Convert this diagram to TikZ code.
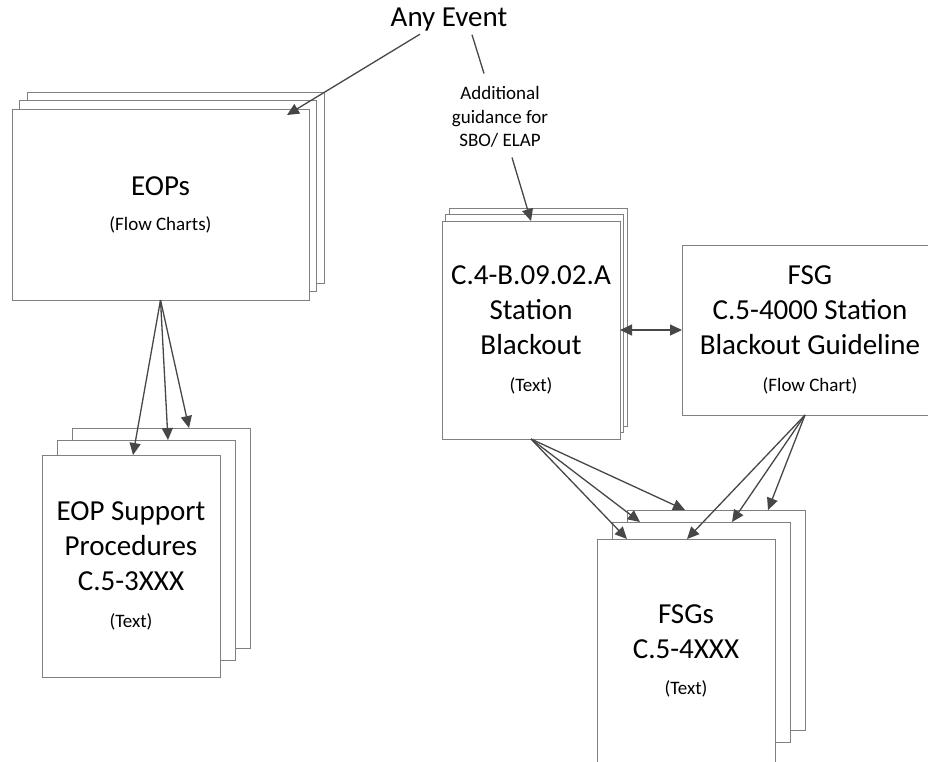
\documentclass[tikz,border=0pt]{standalone}
\usepackage{fontspec}
\setmainfont{Carlito}
\usetikzlibrary{arrows.meta,calc}
\newcommand\BigTxt{\fontsize{29}{35}\selectfont}
\newcommand\SmallTxt{\fontsize{19}{23.5}\selectfont}
\begin{document}
\begin{tikzpicture}[x=1pt,y=-1pt,
  page/.style={draw=black!50, line width=1pt, fill=white, inner sep=0pt, outer sep=0pt,
    anchor=north west, align=center, font=\BigTxt},
  tip/.tip={Triangle[length=12pt,width=11pt]},
  conn/.style={draw=black!72, line width=1.3pt, -tip},
  dconn/.style={draw=black!72, line width=1.3pt, tip-tip},
  plain/.style={draw=black!72, line width=1.3pt},
  label/.style={inner sep=0pt, outer sep=0pt, align=center}]
\useasboundingbox (0,0) rectangle (928,761);
\fill[white] (0,0) rectangle (928,761);

% EOPs stack
\node[page, minimum width=297pt, minimum height=191pt] (eops3) at (27,92) {};
\node[page, minimum width=297pt, minimum height=191pt] (eops2) at (19.5,100.5) {};
\node[page, minimum width=297pt, minimum height=191pt] (eops) at (12,109)
  {EOPs\\{\SmallTxt (Flow Charts)}};

% EOP support stack
\node[page, minimum width=178pt, minimum height=220pt] (sup3) at (72,428) {};
\node[page, minimum width=178pt, minimum height=220pt] (sup2) at (57,440) {};
\node[page, minimum width=178pt, minimum height=222pt] (sup) at (42,455)
  {EOP Support\\Procedures\\C.5-3XXX\\[2pt]{\SmallTxt (Text)}};

% Station blackout stack
\node[page, minimum width=178pt, minimum height=218pt] (sbo3) at (449,208) {};
\node[page, minimum width=178pt, minimum height=218pt] (sbo2) at (445.5,214.5) {};
\node[page, minimum width=178pt, minimum height=218pt] (sbo) at (442,221)
  {C.4-B.09.02.A\\Station\\Blackout\\[2pt]{\SmallTxt (Text)}};

% FSG guideline
\node[page, minimum width=256pt, minimum height=170pt] (fsg) at (682,245)
  {FSG\\C.5-4000 Station\\Blackout Guideline\\[2pt]{\SmallTxt (Flow Chart)}};

% FSGs stack
\node[page, minimum width=178pt, minimum height=220pt] (fsgs3) at (627,510) {};
\node[page, minimum width=178pt, minimum height=220pt] (fsgs2) at (612,522) {};
\node[page, minimum width=178pt, minimum height=224pt] (fsgs) at (597,539)
  {FSGs\\C.5-4XXX\\[1pt]{\SmallTxt (Text)}};

% labels
\node[label, font=\BigTxt, anchor=base] (any) at (449,26.7) {Any Event};
\node[label, font=\SmallTxt] (add) at (500,117) {Additional\\guidance for\\SBO/ ELAP};

% connectors
\draw[conn] ($(any.base)+(-29,7.5)$) -- ($(eops.north east)+(-22,6)$);
\draw[plain] ($(any.base)+(23,8)$) -- ($(add.north)+(-16,-13)$);
\draw[conn] ($(add.south)+(12,10)$) -- (sbo.north);

\draw[conn] (eops.south) -- ($(sup.north west)+(91,0)$);
\draw[conn] (eops.south) -- ($(sup2.north west)+(111,0)$);
\draw[conn] (eops.south) -- ($(sup3.north west)+(117,0)$);

\draw[dconn] (sbo.east) -- (fsg.west);

\draw[conn] (sbo.south) -- ($(fsgs.north west)+(30,0)$);
\draw[conn] (sbo.south) -- ($(fsgs2.north west)+(28,0)$);
\draw[conn] (sbo.south) -- ($(fsgs3.north west)+(58,0)$);

\draw[conn] ($(fsg.south)+(-5,0)$) -- ($(fsgs.north west)+(90,0)$);
\draw[conn] ($(fsg.south)+(-5,0)$) -- ($(fsgs2.north west)+(120,0)$);
\draw[conn] ($(fsg.south)+(-5,0)$) -- ($(fsgs3.north west)+(141,0)$);
\end{tikzpicture}
\end{document}
